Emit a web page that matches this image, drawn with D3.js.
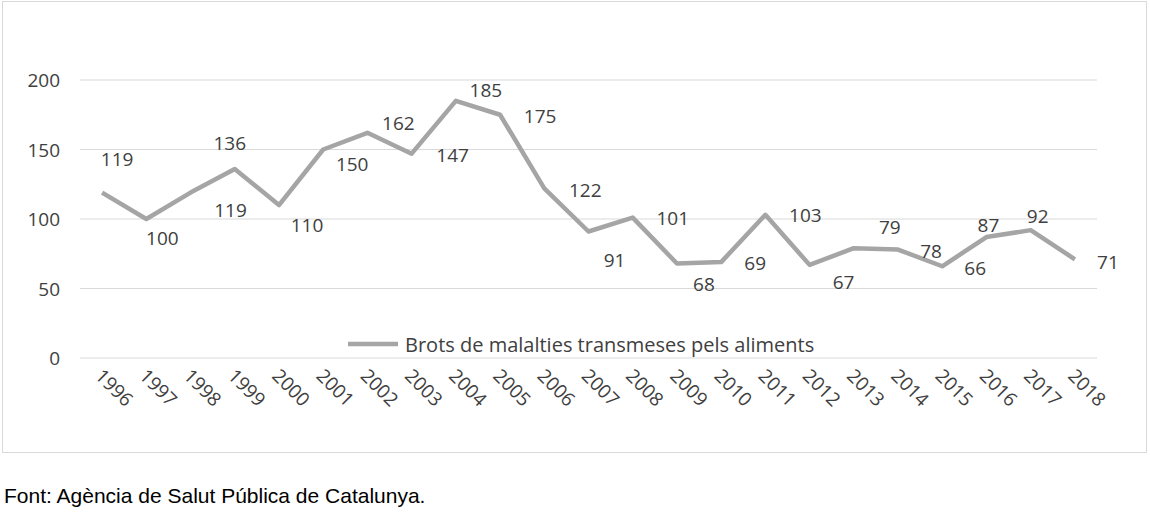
<!DOCTYPE html>
<html><head><meta charset="utf-8">
<script src="https://cdn.jsdelivr.net/npm/d3@7"></script>
<style>body{margin:0;background:#fff}</style>
</head><body>
<svg id="c" width="1150" height="518"></svg>
<script>
var years = ["1996","1997","1998","1999","2000","2001","2002","2003","2004","2005","2006","2007","2008","2009","2010","2011","2012","2013","2014","2015","2016","2017","2018"];
var brots = [119,100,119,136,110,150,162,147,185,175,122,91,101,68,69,103,67,79,78,66,87,92,71];
var yTicks = [0,50,100,150,200];
// label offsets from each point, as placed in the original
var labelDx = [15,16,40,-5,28,29,31,41,30,40,41,26,40,27,34,40,34,36,33,33,2,7,33];
var labelDy = [-34,19,17,-26,20,14,-10,1,-11,1,2,28,0,21,1,0,17,-21,1,2,-12,-14,3];

var svg = d3.select("#c");
svg.append("rect").attr("x",2.5).attr("y",1.5).attr("width",1144).attr("height",451)
  .attr("fill","none").attr("stroke","#d9d9d9");

var x = d3.scaleBand().domain(years).range([80,1097]);
var y = d3.scaleLinear().domain([0,200]).range([358,80]);
var cx = d => x(d)+x.bandwidth()/2;

svg.append("g").selectAll("line").data(yTicks).join("line")
  .attr("x1",80).attr("x2",1097).attr("y1",d=>y(d)).attr("y2",d=>y(d))
  .attr("stroke","#d9d9d9");
svg.append("g").selectAll("text").data(yTicks).join("text")
  .attr("x",60).attr("y",d=>y(d)).attr("dominant-baseline","central").attr("text-anchor","end")
  .attr("font-family","Open Sans").attr("font-size",19).attr("fill","#404040").text(d=>d);

svg.append("g").selectAll("text").data(years).join("text")
  .attr("transform",d=>"translate("+(cx(d)-8)+",377) rotate(45)")
  .attr("font-family","Open Sans").attr("font-size",19).attr("fill","#404040").text(d=>d);

var line = d3.line().x((d,i)=>cx(years[i])).y(d=>y(d));
svg.append("path").datum(brots).attr("d",line).attr("fill","none")
  .attr("stroke","#a5a5a5").attr("stroke-width",4.5).attr("stroke-linejoin","round");

svg.append("g").selectAll("text").data(brots).join("text")
  .attr("x",(d,i)=>cx(years[i])+labelDx[i])
  .attr("y",(d,i)=>y(d)+labelDy[i])
  .attr("dominant-baseline","central")
  .attr("text-anchor","middle").attr("font-family","Open Sans").attr("font-size",19)
  .attr("fill","#404040").text(d=>d);

svg.append("line").attr("x1",348).attr("x2",398).attr("y1",344).attr("y2",344)
  .attr("stroke","#a5a5a5").attr("stroke-width",4.5);
svg.append("text").attr("x",405).attr("y",344).attr("dominant-baseline","central")
  .attr("font-family","Open Sans").attr("font-size",20)
  .attr("fill","#404040").text("Brots de malalties transmeses pels aliments");

svg.append("text").attr("x",4).attr("y",503).attr("font-family","Liberation Sans").attr("font-size",21)
  .attr("fill","#000").text("Font: Agència de Salut Pública de Catalunya.");
</script>
</body></html>
